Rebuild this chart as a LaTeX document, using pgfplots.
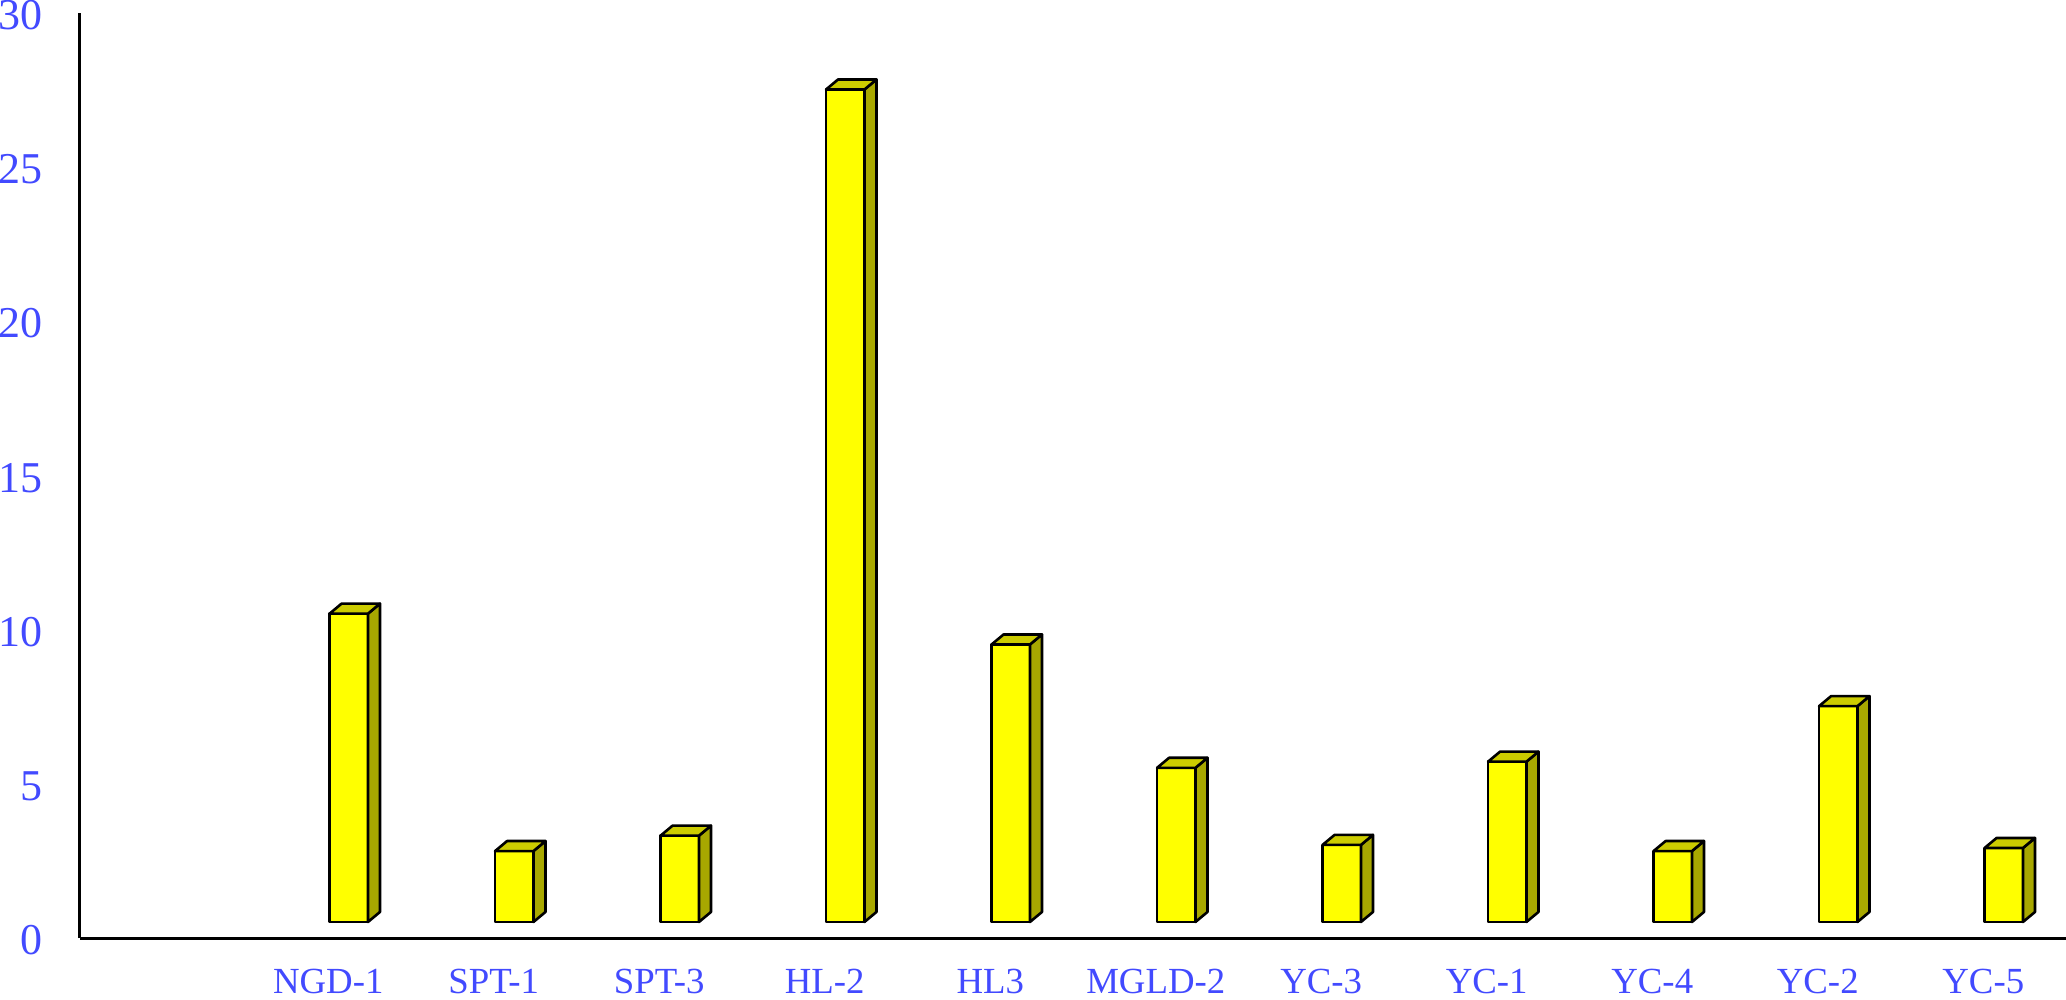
\documentclass[border=0pt]{standalone}
\usepackage{fontspec}
\setmainfont{Liberation Serif}
\usepackage{pgfplots}
\pgfplotsset{compat=1.18}
\definecolor{lblblue}{RGB}{66,74,255}
\definecolor{barfront}{RGB}{255,255,0}
\definecolor{barside}{RGB}{168,168,0}
\definecolor{bartop}{RGB}{204,204,0}
\pgfplotsset{barstyle/.style={draw=black, line width=0.65pt, line join=round, mark=none, forget plot}}
\newcommand{\cube}[2]{%
 \pgfmathsetmacro{\xL}{#1+0.008}%
 \pgfmathsetmacro{\xR}{#1+0.240}%
 \pgfmathsetmacro{\xRR}{#1+0.240+0.0725}%
 \pgfmathsetmacro{\xLL}{#1+0.008+0.0725}%
 \pgfmathsetmacro{\yB}{0.52}%
 \pgfmathsetmacro{\yBB}{0.52+0.325}%
 \pgfmathsetmacro{\yT}{0.52+#2}%
 \pgfmathsetmacro{\yTT}{0.52+#2+0.325}%
 \addplot[barstyle, fill=barfront] coordinates {(\xL,\yB) (\xR,\yB) (\xR,\yT) (\xL,\yT)} -- cycle;
 \addplot[barstyle, fill=barside] coordinates {(\xR,\yB) (\xRR,\yBB) (\xRR,\yTT) (\xR,\yT)} -- cycle;
 \addplot[barstyle, fill=bartop] coordinates {(\xL,\yT) (\xLL,\yTT) (\xRR,\yTT) (\xR,\yT)} -- cycle;
}
\begin{document}
\begin{tikzpicture}
\useasboundingbox (0,0) rectangle (516.5pt,249.75pt);
\begin{axis}[
  at={(20pt,15.25pt)}, anchor=south west,
  scale only axis, width=496.5pt, height=231.25pt,
  xmin=-0.5, xmax=11.5, ymin=0, ymax=30,
  axis x line*=bottom, axis y line*=left,
  axis line style={black, line width=0.75pt, -},
  major tick length=0pt,
  xtick={1,...,11},
  xticklabels={NGD-1,SPT-1,SPT-3,HL-2,HL3,MGLD-2,YC-3,YC-1,YC-4,YC-2,YC-5},
  ytick={0,5,...,30},
  /pgf/number format/assume math mode=true,
  ticklabel style={text=lblblue},
  yticklabel style={font=\fontsize{11}{13}\selectfont, anchor=east, xshift=-5.9pt, yshift=-0.55pt},
  xticklabel style={font=\fontsize{9.2}{11}\selectfont, anchor=north, yshift=-4.3pt},
  clip=false,
]
\cube{1}{10.0}
\cube{2}{2.3}
\cube{3}{2.8}
\cube{4}{27.0}
\cube{5}{9.0}
\cube{6}{5.0}
\cube{7}{2.5}
\cube{8}{5.2}
\cube{9}{2.3}
\cube{10}{7.0}
\cube{11}{2.4}
\end{axis}
\end{tikzpicture}
\end{document}
